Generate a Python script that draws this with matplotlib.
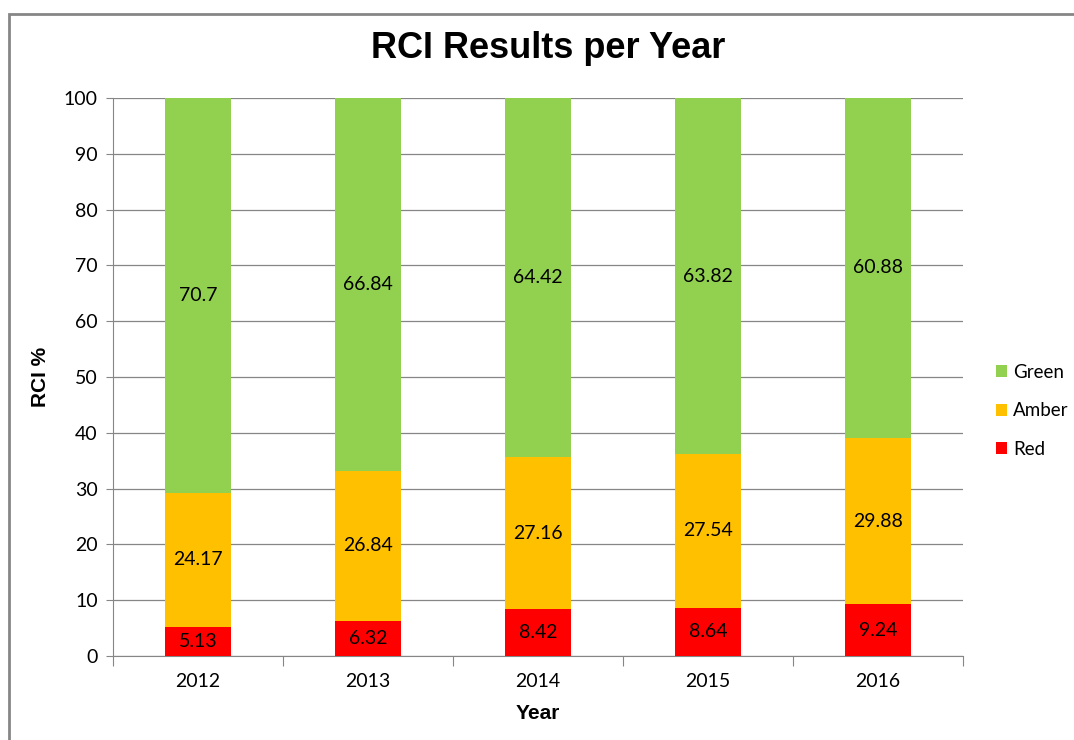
import matplotlib.pyplot as plt
import numpy as np

# data
years = ['2012', '2013', '2014', '2015', '2016']
red = [5.13, 6.32, 8.42, 8.64, 9.24]
amber = [24.17, 26.84, 27.16, 27.54, 29.88]
green = [70.7, 66.84, 64.42, 63.82, 60.88]

c_green = '#92D050'
c_amber = '#FFC000'
c_red = '#FF0000'
lbl_font = ['Lato', 'DejaVu Sans']

fig = plt.figure(figsize=(10.74, 7.40), dpi=100)
# outer chart frame
fig.patches.append(plt.Rectangle((9 / 1074, -0.05), 1.2, 1 - 14 / 740 + 0.05,
                                 transform=fig.transFigure, fill=False,
                                 edgecolor='#868686', linewidth=2))

ax = fig.add_axes([0.1052, 0.1135, 0.7914, 0.7541])
x = np.arange(len(years))
w = 0.39

b1 = ax.bar(x, red, w, color=c_red, label='Red', zorder=3)
b2 = ax.bar(x, amber, w, bottom=red, color=c_amber, label='Amber', zorder=3)
bottom_g = np.array(red) + np.array(amber)
b3 = ax.bar(x, green, w, bottom=bottom_g, color=c_green, label='Green', zorder=3)

for bars in (b1, b2, b3):
    ax.bar_label(bars, labels=[f'{v:g}' for v in bars.datavalues],
                 label_type='center', fontsize=14, family=lbl_font, color='black')

ax.set_xlim(-0.5, len(years) - 0.5)
ax.set_ylim(0, 100)
ax.set_yticks(range(0, 101, 10))
ax.yaxis.grid(True, color='#868686', linewidth=0.9, zorder=0)
ax.set_axisbelow(True)

# category labels centred, tick marks between categories
ax.set_xticks(np.arange(-0.5, len(years), 1))
ax.set_xticklabels([])
ax.set_xticks(x, minor=True)
ax.set_xticklabels(years, minor=True, fontsize=14, family=lbl_font)
ax.tick_params(axis='x', which='minor', length=0, pad=12)
ax.tick_params(axis='x', which='major', length=7, color='#868686')
ax.tick_params(axis='y', length=5, color='#868686', labelsize=14, pad=6)
for lab in ax.get_yticklabels():
    lab.set_family(lbl_font)

for s in ['top', 'right']:
    ax.spines[s].set_visible(False)
for s in ['left', 'bottom']:
    ax.spines[s].set_color('#868686')

ax.set_xlabel('Year', fontsize=15, fontweight='bold', family='Liberation Sans', labelpad=10)
ax.set_ylabel('RCI %', fontsize=15, fontweight='bold', family='Liberation Sans', labelpad=10)
fig.suptitle('RCI Results per Year', x=0.51, y=0.935, va='center', fontsize=26,
             fontweight='bold', family='Liberation Sans')

h, l = ax.get_legend_handles_labels()
leg = fig.legend(h[::-1], l[::-1], loc='center left', bbox_to_anchor=(0.927, 0.445),
                 frameon=False, handlelength=0.6, handleheight=0.6,
                 labelspacing=1.15, handletextpad=0.35, borderpad=0,
                 borderaxespad=0, prop={'family': lbl_font, 'size': 13.5})

fig.savefig('out.png', dpi=100)
